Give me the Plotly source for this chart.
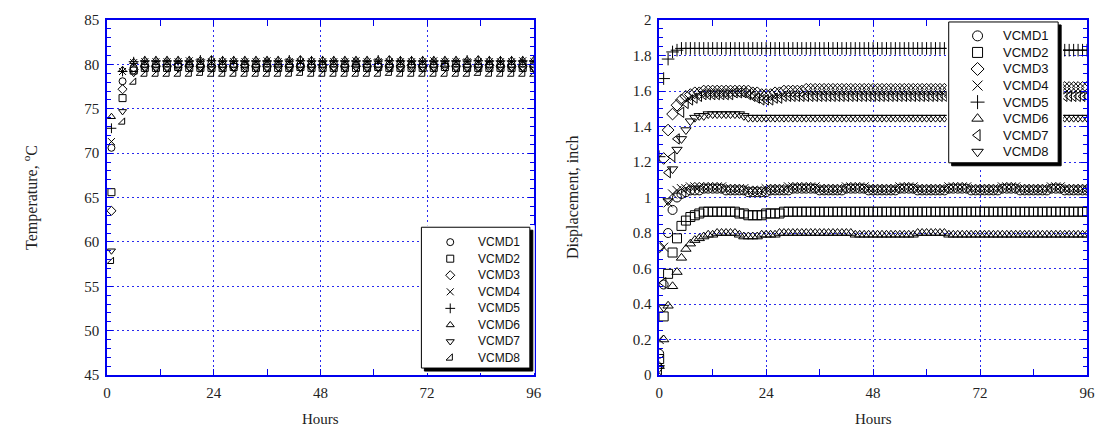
import plotly.graph_objects as go

# ---------------- data: temperature (left) ----------------
temp_hours = [1, 3.5, 6, 8.5, 11, 13.5, 16, 18.5, 21, 23.5, 26, 28.5, 31, 33.5, 36, 38.5,
              41, 43.5, 46, 48.5, 51, 53.5, 56, 58.5, 61, 63.5, 66, 68.5, 71, 73.5, 76,
              78.5, 81, 83.5, 86, 88.5, 91, 93.5, 96]

temp_vcmd1 = [70.6, 78.1, 79.6, 80.0, 80.0, 80.1, 80.0, 80.0, 80.0, 80.1, 80.0, 80.0, 80.0,
              80.0, 80.1, 80.0, 80.0, 80.0, 80.0, 80.0, 80.1, 80.0, 80.0, 80.0, 80.0, 80.0,
              80.1, 80.0, 80.0, 80.0, 80.0, 80.1, 80.0, 80.0, 80.0, 80.0, 80.0, 80.1, 80.0]
temp_vcmd2 = [65.6, 76.2, 79.3, 79.6, 79.6, 79.6, 79.7, 79.6, 79.6, 79.6, 79.6, 79.7, 79.6,
              79.6, 79.6, 79.6, 79.6, 79.7, 79.6, 79.6, 79.6, 79.6, 79.6, 79.6, 79.7, 79.6,
              79.6, 79.6, 79.6, 79.6, 79.7, 79.6, 79.6, 79.6, 79.6, 79.6, 79.6, 79.6, 79.6]
temp_vcmd3 = [63.5, 77.2, 79.4, 79.8, 79.8, 79.8, 79.9, 79.8, 79.8, 79.8, 79.8, 79.8, 79.9,
              79.8, 79.8, 79.8, 79.8, 79.8, 79.8, 79.9, 79.8, 79.8, 79.8, 79.8, 79.8, 79.8,
              79.8, 79.9, 79.8, 79.8, 79.8, 79.8, 79.8, 79.8, 79.9, 79.8, 79.8, 79.8, 79.8]
temp_vcmd4 = [71.3, 79.2, 80.2, 80.3, 80.3, 80.3, 80.3, 80.4, 80.3, 80.3, 80.3, 80.3, 80.3,
              80.3, 80.4, 80.3, 80.3, 80.3, 80.3, 80.3, 80.3, 80.3, 80.4, 80.3, 80.3, 80.3,
              80.3, 80.3, 80.3, 80.4, 80.3, 80.3, 80.3, 80.3, 80.3, 80.3, 80.3, 80.4, 80.3]
temp_vcmd5 = [72.8, 79.2, 80.3, 80.4, 80.4, 80.4, 80.4, 80.4, 80.5, 80.4, 80.4, 80.4, 80.4,
              80.4, 80.4, 80.4, 80.5, 80.4, 80.4, 80.4, 80.4, 80.4, 80.4, 80.4, 80.5, 80.4,
              80.4, 80.4, 80.4, 80.4, 80.4, 80.4, 80.5, 80.4, 80.4, 80.4, 80.4, 80.4, 80.4]
temp_vcmd6 = [74.1, 79.4, 80.3, 80.5, 80.5, 80.5, 80.5, 80.5, 80.5, 80.6, 80.5, 80.5, 80.5,
              80.5, 80.5, 80.5, 80.5, 80.6, 80.5, 80.5, 80.5, 80.5, 80.5, 80.5, 80.5, 80.6,
              80.5, 80.5, 80.5, 80.5, 80.5, 80.5, 80.5, 80.6, 80.5, 80.5, 80.5, 80.5, 80.5]
temp_vcmd7 = [59.0, 74.7, 79.0, 79.5, 79.5, 79.5, 79.5, 79.6, 79.5, 79.5, 79.5, 79.5, 79.5,
              79.5, 79.5, 79.6, 79.5, 79.5, 79.5, 79.5, 79.5, 79.5, 79.6, 79.5, 79.5, 79.5,
              79.5, 79.5, 79.5, 79.5, 79.6, 79.5, 79.5, 79.5, 79.5, 79.5, 79.5, 79.5, 79.5]
temp_vcmd8 = [57.8, 73.5, 78.0, 78.9, 78.9, 78.9, 78.9, 78.9, 79.0, 78.9, 78.9, 78.9, 78.9,
              78.9, 78.9, 78.9, 78.9, 79.0, 78.9, 78.9, 78.9, 78.9, 78.9, 78.9, 78.9, 79.0,
              78.9, 78.9, 78.9, 78.9, 78.9, 78.9, 78.9, 79.0, 78.9, 78.9, 78.9, 78.9, 78.9]

# ---------------- data: displacement (right) ----------------
disp_hours = [0, 1, 2, 3, 4, 5, 6, 7, 8, 9, 10, 11, 12, 13, 14, 15, 16, 17, 18, 19, 20,
              21, 22, 23, 24, 25, 26, 27, 28, 29, 30, 31, 32, 33, 34, 35, 36, 37, 38, 39, 40,
              41, 42, 43, 44, 45, 46, 47, 48, 49, 50, 51, 52, 53, 54, 55, 56, 57, 58, 59, 60,
              61, 62, 63, 64, 65, 66, 67, 68, 69, 70, 71, 72, 73, 74, 75, 76, 77, 78, 79, 80,
              81, 82, 83, 84, 85, 86, 87, 88, 89, 90, 91, 92, 93, 94, 95, 96]

disp_vcmd1 = [0.12, 0.51, 0.80, 0.93, 1.00, 1.02, 1.03, 1.04, 1.04, 1.04,
              1.05, 1.05, 1.05, 1.05, 1.05, 1.04, 1.04, 1.04, 1.04, 1.04,
              1.03, 1.03, 1.03, 1.03, 1.03, 1.04, 1.04, 1.04, 1.04, 1.04,
              1.05, 1.05, 1.05, 1.05, 1.05, 1.05, 1.04, 1.04, 1.04, 1.04,
              1.04, 1.04, 1.05, 1.05, 1.05, 1.05, 1.05, 1.04, 1.04, 1.04,
              1.04, 1.04, 1.04, 1.04, 1.05, 1.05, 1.05, 1.05, 1.04, 1.04,
              1.04, 1.04, 1.04, 1.04, 1.04, 1.05, 1.05, 1.05, 1.05, 1.05,
              1.04, 1.04, 1.04, 1.04, 1.04, 1.04, 1.04, 1.05, 1.05, 1.05,
              1.05, 1.04, 1.04, 1.04, 1.04, 1.04, 1.04, 1.04, 1.05, 1.05,
              1.05, 1.04, 1.04, 1.04, 1.04, 1.04, 1.04]
disp_vcmd2 = [0.09, 0.33, 0.57, 0.69, 0.77, 0.84, 0.87, 0.89, 0.90, 0.91,
              0.92, 0.92, 0.92, 0.92, 0.92, 0.92, 0.92, 0.92, 0.91, 0.91,
              0.90, 0.90, 0.90, 0.90, 0.91, 0.91, 0.91, 0.91, 0.92, 0.92,
              0.92, 0.92, 0.92, 0.92, 0.92, 0.92, 0.92, 0.92, 0.92, 0.92,
              0.92, 0.92, 0.92, 0.92, 0.92, 0.92, 0.92, 0.92, 0.92, 0.92,
              0.92, 0.92, 0.92, 0.92, 0.92, 0.92, 0.92, 0.92, 0.92, 0.92,
              0.92, 0.92, 0.92, 0.92, 0.92, 0.92, 0.92, 0.92, 0.92, 0.92,
              0.92, 0.92, 0.92, 0.92, 0.92, 0.92, 0.92, 0.92, 0.92, 0.92,
              0.92, 0.92, 0.92, 0.92, 0.92, 0.92, 0.92, 0.92, 0.92, 0.92,
              0.92, 0.92, 0.92, 0.92, 0.92, 0.92, 0.92]
disp_vcmd3 = [0.72, 1.22, 1.38, 1.47, 1.52, 1.55, 1.57, 1.58, 1.59, 1.59,
              1.60, 1.60, 1.60, 1.60, 1.60, 1.60, 1.60, 1.60, 1.60, 1.60,
              1.60, 1.59, 1.59, 1.58, 1.58, 1.58, 1.59, 1.59, 1.60, 1.60,
              1.60, 1.60, 1.60, 1.61, 1.61, 1.61, 1.61, 1.61, 1.61, 1.61,
              1.61, 1.61, 1.61, 1.61, 1.61, 1.61, 1.61, 1.61, 1.61, 1.61,
              1.61, 1.61, 1.61, 1.61, 1.61, 1.61, 1.61, 1.61, 1.61, 1.61,
              1.61, 1.61, 1.61, 1.61, 1.61, 1.61, 1.61, 1.61, 1.61, 1.61,
              1.61, 1.61, 1.61, 1.61, 1.61, 1.61, 1.61, 1.61, 1.61, 1.61,
              1.61, 1.61, 1.61, 1.61, 1.61, 1.62, 1.62, 1.62, 1.62, 1.62,
              1.62, 1.62, 1.62, 1.62, 1.62, 1.62, 1.62]
disp_vcmd4 = [0.20, 0.72, 0.97, 1.02, 1.04, 1.05, 1.05, 1.06, 1.06, 1.06,
              1.06, 1.06, 1.06, 1.06, 1.06, 1.05, 1.05, 1.05, 1.05, 1.05,
              1.04, 1.04, 1.04, 1.04, 1.05, 1.05, 1.05, 1.05, 1.05, 1.06,
              1.06, 1.06, 1.06, 1.06, 1.06, 1.06, 1.05, 1.05, 1.05, 1.05,
              1.05, 1.05, 1.06, 1.06, 1.06, 1.06, 1.06, 1.05, 1.05, 1.05,
              1.05, 1.05, 1.05, 1.05, 1.06, 1.06, 1.06, 1.06, 1.05, 1.05,
              1.05, 1.05, 1.05, 1.05, 1.05, 1.06, 1.06, 1.06, 1.06, 1.06,
              1.05, 1.05, 1.05, 1.05, 1.05, 1.05, 1.05, 1.06, 1.06, 1.06,
              1.06, 1.05, 1.05, 1.05, 1.05, 1.05, 1.05, 1.05, 1.06, 1.06,
              1.06, 1.05, 1.05, 1.05, 1.05, 1.05, 1.05]
disp_vcmd5 = [1.23, 1.67, 1.78, 1.82, 1.83, 1.84, 1.84, 1.84, 1.84, 1.84,
              1.84, 1.84, 1.84, 1.84, 1.84, 1.84, 1.84, 1.84, 1.84, 1.84,
              1.84, 1.84, 1.84, 1.84, 1.84, 1.84, 1.84, 1.84, 1.84, 1.84,
              1.84, 1.84, 1.84, 1.84, 1.84, 1.84, 1.84, 1.84, 1.84, 1.84,
              1.84, 1.84, 1.84, 1.84, 1.84, 1.84, 1.84, 1.84, 1.84, 1.84,
              1.84, 1.84, 1.84, 1.84, 1.84, 1.84, 1.84, 1.84, 1.84, 1.84,
              1.84, 1.84, 1.84, 1.84, 1.84, 1.84, 1.84, 1.84, 1.84, 1.84,
              1.84, 1.84, 1.84, 1.84, 1.84, 1.84, 1.84, 1.84, 1.84, 1.84,
              1.84, 1.84, 1.84, 1.84, 1.84, 1.84, 1.84, 1.84, 1.84, 1.84,
              1.83, 1.83, 1.83, 1.83, 1.83, 1.83, 1.83]
disp_vcmd6 = [0.05, 0.20, 0.39, 0.50, 0.58, 0.66, 0.71, 0.74, 0.76, 0.77,
              0.78, 0.79, 0.79, 0.80, 0.80, 0.80, 0.80, 0.80, 0.79, 0.78,
              0.78, 0.78, 0.78, 0.79, 0.79, 0.79, 0.79, 0.80, 0.80, 0.80,
              0.80, 0.80, 0.80, 0.80, 0.80, 0.80, 0.80, 0.80, 0.80, 0.80,
              0.80, 0.80, 0.80, 0.80, 0.79, 0.79, 0.79, 0.79, 0.79, 0.79,
              0.79, 0.79, 0.79, 0.79, 0.79, 0.79, 0.79, 0.79, 0.80, 0.80,
              0.80, 0.80, 0.80, 0.80, 0.80, 0.79, 0.79, 0.79, 0.79, 0.79,
              0.79, 0.79, 0.79, 0.79, 0.79, 0.79, 0.79, 0.79, 0.79, 0.79,
              0.79, 0.79, 0.79, 0.79, 0.79, 0.79, 0.79, 0.79, 0.79, 0.79,
              0.79, 0.79, 0.79, 0.79, 0.79, 0.79, 0.79]
disp_vcmd7 = [0.03, 0.52, 1.14, 1.23, 1.33, 1.48, 1.53, 1.55, 1.56, 1.57,
              1.58, 1.58, 1.58, 1.58, 1.58, 1.58, 1.58, 1.59, 1.59, 1.59,
              1.58, 1.57, 1.56, 1.55, 1.55, 1.55, 1.56, 1.56, 1.57, 1.57,
              1.57, 1.57, 1.57, 1.57, 1.57, 1.57, 1.57, 1.57, 1.57, 1.57,
              1.57, 1.57, 1.57, 1.57, 1.57, 1.57, 1.57, 1.57, 1.57, 1.57,
              1.57, 1.57, 1.57, 1.57, 1.57, 1.57, 1.57, 1.57, 1.57, 1.57,
              1.57, 1.57, 1.57, 1.57, 1.57, 1.57, 1.57, 1.57, 1.57, 1.57,
              1.57, 1.57, 1.57, 1.57, 1.57, 1.57, 1.57, 1.57, 1.57, 1.57,
              1.57, 1.57, 1.57, 1.57, 1.57, 1.57, 1.57, 1.57, 1.57, 1.57,
              1.57, 1.57, 1.57, 1.57, 1.57, 1.57, 1.57]
disp_vcmd8 = [0.04, 0.38, 0.98, 1.16, 1.27, 1.33, 1.38, 1.43, 1.45, 1.46,
              1.46, 1.47, 1.47, 1.47, 1.47, 1.47, 1.47, 1.47, 1.47, 1.46,
              1.45, 1.45, 1.45, 1.45, 1.45, 1.45, 1.45, 1.45, 1.45, 1.45,
              1.45, 1.45, 1.45, 1.45, 1.45, 1.45, 1.45, 1.45, 1.45, 1.45,
              1.45, 1.45, 1.45, 1.45, 1.45, 1.45, 1.45, 1.45, 1.45, 1.45,
              1.45, 1.45, 1.45, 1.45, 1.45, 1.45, 1.45, 1.45, 1.45, 1.45,
              1.45, 1.45, 1.45, 1.45, 1.45, 1.45, 1.45, 1.45, 1.45, 1.45,
              1.45, 1.45, 1.45, 1.45, 1.45, 1.45, 1.45, 1.45, 1.45, 1.45,
              1.45, 1.45, 1.45, 1.45, 1.45, 1.45, 1.45, 1.45, 1.45, 1.45,
              1.45, 1.45, 1.45, 1.45, 1.45, 1.45, 1.45]

series_names = ["VCMD1", "VCMD2", "VCMD3", "VCMD4", "VCMD5", "VCMD6", "VCMD7", "VCMD8"]
temp_series = [temp_vcmd1, temp_vcmd2, temp_vcmd3, temp_vcmd4,
               temp_vcmd5, temp_vcmd6, temp_vcmd7, temp_vcmd8]
disp_series = [disp_vcmd1, disp_vcmd2, disp_vcmd3, disp_vcmd4,
               disp_vcmd5, disp_vcmd6, disp_vcmd7, disp_vcmd8]

temp_symbols = ["circle-open", "square-open", "diamond-open", "x-thin-open", "cross-thin-open",
                "triangle-up-open", "triangle-down-open", "triangle-se-open"]
disp_symbols = ["circle-open", "square-open", "diamond-open", "x-thin-open", "cross-thin-open",
                "triangle-up-open", "triangle-left-open", "triangle-down-open"]

# ---------------- figure geometry (pixels) ----------------
W, H = 1107, 437
ML, MR, MT, MB = 107, 15, 17, 62
PW = W - ML - MR
PH = H - MT - MB


def px_x(px):
    return (px - ML) / PW


def px_y(py):
    return (H - MB - py) / PH


fig = go.Figure()
for name, vals, sym in zip(series_names, temp_series, temp_symbols):
    fig.add_trace(go.Scatter(
        x=temp_hours, y=vals, mode="markers", name=name, xaxis="x", yaxis="y",
        showlegend=False,
        marker=dict(symbol=sym, size=7, color="black", line=dict(color="black", width=1)),
    ))
for name, vals, sym in zip(series_names, disp_series, disp_symbols):
    fig.add_trace(go.Scatter(
        x=disp_hours, y=vals, mode="markers", name=name, xaxis="x2", yaxis="y2",
        showlegend=False,
        marker=dict(symbol=sym, size=9, color="black", line=dict(color="black", width=1)),
    ))

BLUE = "#0000ee"
GRID = "#2a2aee"
tickfont = dict(family="Liberation Serif", size=15, color="#222222")
common = dict(showline=True, linecolor=BLUE, linewidth=1.5, mirror="allticks",
              ticks="inside", ticklen=6, tickcolor=BLUE, tickwidth=1,
              showgrid=True, gridcolor=GRID, griddash="2px,3px", gridwidth=1,
              zeroline=False, tickfont=tickfont, ticklabelstandoff=3)

xcommon = dict(common, range=[0, 96], tickvals=[0, 24, 48, 72, 96],
               minor=dict(ticks="inside", dtick=12, tick0=0, ticklen=6,
                          tickcolor=BLUE, showgrid=False))

hidden = dict(visible=False, showgrid=False, zeroline=False, fixedrange=True)

# legend boxes (pixel rectangles: x0, y0, x1, y1), symbol column, text column, first row, row step
legend_specs = [
    dict(box=(423, 226, 532, 368), sym_x=452, text_x=478, row0=241, step=16.7,
         symbols=temp_symbols, size=7, font=12, axes=("x3", "y3")),
    dict(box=(953, 19, 1063, 161), sym_x=982, text_x=1006, row0=33, step=16.7,
         symbols=disp_symbols, size=10, font=13, axes=("x4", "y4")),
]

layout_axes = {}
for spec in legend_specs:
    bx0, by0, bx1, by1 = spec["box"]
    dx0, dy0, dx1, dy1 = bx0 - 2, by0 - 2, bx1 + 5, by1 + 5
    xa, ya = spec["axes"]
    layout_axes["xaxis" + xa[1:]] = dict(hidden, domain=[px_x(dx0), px_x(dx1)],
                                         range=[dx0, dx1], anchor=ya)
    layout_axes["yaxis" + ya[1:]] = dict(hidden, domain=[px_y(dy1), px_y(dy0)],
                                         range=[dy1, dy0], anchor=xa)
    # drop shadow
    fig.add_trace(go.Scatter(
        x=[bx0 + 3, bx1 + 3, bx1 + 3, bx0 + 3, bx0 + 3],
        y=[by0 + 3, by0 + 3, by1 + 3, by1 + 3, by0 + 3],
        mode="lines", fill="toself", fillcolor="black", line=dict(color="black", width=1),
        xaxis=xa, yaxis=ya, showlegend=False, hoverinfo="skip"))
    # box
    fig.add_trace(go.Scatter(
        x=[bx0, bx1, bx1, bx0, bx0], y=[by0, by0, by1, by1, by0],
        mode="lines", fill="toself", fillcolor="white", line=dict(color="black", width=1),
        xaxis=xa, yaxis=ya, showlegend=False, hoverinfo="skip"))
    for i, (name, sym) in enumerate(zip(series_names, spec["symbols"])):
        ry = spec["row0"] + spec["step"] * i
        fig.add_trace(go.Scatter(
            x=[spec["sym_x"]], y=[ry], mode="markers", xaxis=xa, yaxis=ya,
            showlegend=False, hoverinfo="skip",
            marker=dict(symbol=sym, size=spec["size"], color="black",
                        line=dict(color="black", width=1))))
        fig.add_annotation(text=name, xref=xa, yref=ya, x=spec["text_x"], y=ry,
                           xanchor="left", yanchor="middle", showarrow=False,
                           font=dict(family="Liberation Sans", size=spec["font"],
                                     color="#111111"))

fig.update_layout(
    width=W, height=H,
    margin=dict(l=ML, r=MR, t=MT, b=MB),
    paper_bgcolor="white", plot_bgcolor="white",
    xaxis=dict(xcommon, domain=[0, px_x(536)], anchor="y"),
    yaxis=dict(common, range=[45, 85], dtick=5, anchor="x",
               minor=dict(ticks="inside", dtick=1, ticklen=4, tickcolor=BLUE, showgrid=False)),
    xaxis2=dict(xcommon, domain=[px_x(662), 1], anchor="y2"),
    yaxis2=dict(common, range=[0, 2], dtick=0.2, anchor="x2",
                minor=dict(ticks="inside", dtick=0.05, ticklen=4, tickcolor=BLUE, showgrid=False)),
    showlegend=False,
    **layout_axes,
)

titlefont = dict(family="Liberation Serif", size=16, color="#222222")
fig.add_annotation(text="Temperature, <sup>o</sup>C", xref="paper", yref="paper",
                   x=px_x(30), y=0.5, xanchor="center", yanchor="middle",
                   textangle=-90, showarrow=False, font=titlefont)
fig.add_annotation(text="Displacement, inch", xref="paper", yref="paper",
                   x=px_x(575), y=0.5, xanchor="center", yanchor="middle",
                   textangle=-90, showarrow=False, font=titlefont)
fig.add_annotation(text="Hours", xref="paper", yref="paper",
                   x=px_x(321.5), y=px_y(419), xanchor="center", yanchor="middle",
                   showarrow=False, font=dict(titlefont, size=15))
fig.add_annotation(text="Hours", xref="paper", yref="paper",
                   x=px_x(877), y=px_y(419), xanchor="center", yanchor="middle",
                   showarrow=False, font=dict(titlefont, size=15))

fig.write_html("out.html")
